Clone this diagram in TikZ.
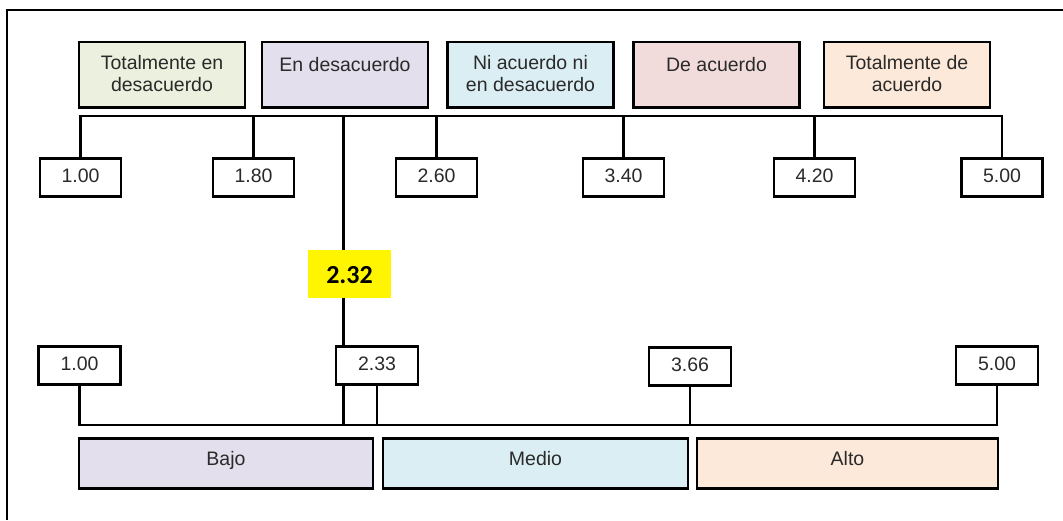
\documentclass[tikz,border=0pt]{standalone}
\usepackage{fontspec}
\setmainfont{Liberation Sans}
\newfontfamily\calibfont{Carlito}
\usetikzlibrary{calc}
\definecolor{txt}{HTML}{2A2A2A}
\definecolor{cA}{HTML}{EBF1DE}
\definecolor{cB}{HTML}{E4DFEC}
\definecolor{cC}{HTML}{DBEEF4}
\definecolor{cD}{HTML}{F2DCDB}
\definecolor{cE}{HTML}{FDE9D9}
\definecolor{hl}{HTML}{FFF500}
\newcommand{\mainsz}{\fontsize{19.5}{21.6}\selectfont}
\begin{document}
\begin{tikzpicture}[x=1pt,y=-1pt,
  box/.style={draw=black, line width=2.9pt, inner sep=0pt, outer sep=0pt, text=txt, font=\mainsz},
  catbox/.style={box, minimum width=166pt, minimum height=65.5pt},
  valbox/.style={box, fill=white, minimum width=81pt, minimum height=38.5pt, text height=14pt, text depth=4.6pt},
  lvlbox/.style={box, minimum height=50pt, text height=14pt, text depth=10.6pt},
  lbl/.style={anchor=base, inner sep=0pt, outer sep=0pt, text=txt, font=\mainsz, align=center},
  conn/.style={line width=2.9pt, line join=miter},
  thk/.style={line width=3.9pt},
  frame/.style={line width=2pt}]
\useasboundingbox (0,0) rectangle (1063,520);
\draw[frame] (7,520) -- (7,10) -- (1063,10);

% category boxes
\node[catbox, fill=cA] (c1) at (162,74.75) {};
\node[catbox, fill=cB] (c2) at (345,74.75) {};
\node[catbox, fill=cC] (c3) at (530.5,74.75) {};
\node[catbox, fill=cD] (c4) at (716.5,74.75) {};
\node[catbox, fill=cE] (c5) at (907,74.75) {};
\node[lbl] (t1) at ($(c1.north)+(0,27.7)$) {\renewcommand{\arraystretch}{1}\setlength{\tabcolsep}{0pt}\begin{tabular}[t]{c}Totalmente en\\desacuerdo\end{tabular}};
\node[lbl] (t2) at ($(c2.north)+(0,29.3)$) {En desacuerdo};
\node[lbl] (t3) at ($(c3.north)+(0,27.7)$) {\renewcommand{\arraystretch}{1}\setlength{\tabcolsep}{0pt}\begin{tabular}[t]{c}Ni acuerdo ni\\en desacuerdo\end{tabular}};
\node[lbl] (t4) at ($(c4.north)+(0,29.3)$) {De acuerdo};
\node[lbl] (t5) at ($(c5.north)+(0,27.7)$) {\renewcommand{\arraystretch}{1}\setlength{\tabcolsep}{0pt}\begin{tabular}[t]{c}Totalmente de\\acuerdo\end{tabular}};

% top values
\node[valbox] (v1) at (80.5,177.4) {1.00};
\node[valbox] (v2) at (253.5,177.4) {1.80};
\node[valbox] (v3) at (436.5,177.4) {2.60};
\node[valbox] (v4) at (623.5,177.4) {3.40};
\node[valbox] (v5) at (814.5,177.4) {4.20};
\node[valbox] (v6) at (1002,177.4) {5.00};

% average
\node[fill=hl, inner sep=0pt, outer sep=0pt, minimum width=83pt, minimum height=47.5pt,
      font=\calibfont\bfseries\fontsize{26}{30}\selectfont, text=black,
      text height=20pt, text depth=1pt] (avg) at (349.5,273.75) {2.32};

% lower values
\node[valbox, minimum width=82pt] (w1) at (79.5,365.4) {1.00};
\node[valbox, minimum width=82pt] (w2) at (377,365.4) {2.33};
\node[valbox, minimum width=82pt] (w3) at (690,366.5) {3.66};
\node[valbox, minimum width=82pt] (w4) at (997,365.4) {5.00};

% levels
\node[lvlbox, fill=cB, minimum width=294pt] (l1) at (226,463.3) {Bajo};
\node[lvlbox, fill=cC, minimum width=305pt] (l2) at (535.5,463.3) {Medio};
\node[lvlbox, fill=cE, minimum width=301pt] (l3) at (847.5,463.3) {Alto};

% connectors
\coordinate (tb) at (0,116);
\coordinate (bb) at (0,425);
\coordinate (mx) at (343.5,0);
\draw[conn] (v1.north) -- (v1.north |- tb) -- (v6.north |- tb) -- (v6.north);
\foreach \i in {2,3,4,5} {\draw[conn] (v\i.north) -- (v\i.north |- tb);}
\draw[conn] (w1.south) -- (w1.south |- bb) -- (w4.south |- bb) -- (w4.south);
\foreach \i in {2,3} {\draw[conn] (w\i.south) -- (w\i.south |- bb);}
\draw[thk] (mx |- tb) -- (mx |- avg.north);
\draw[thk] (mx |- avg.south) -- (mx |- w2.north);
\draw[thk] (mx |- w2.south) -- (mx |- bb);
\end{tikzpicture}
\end{document}
